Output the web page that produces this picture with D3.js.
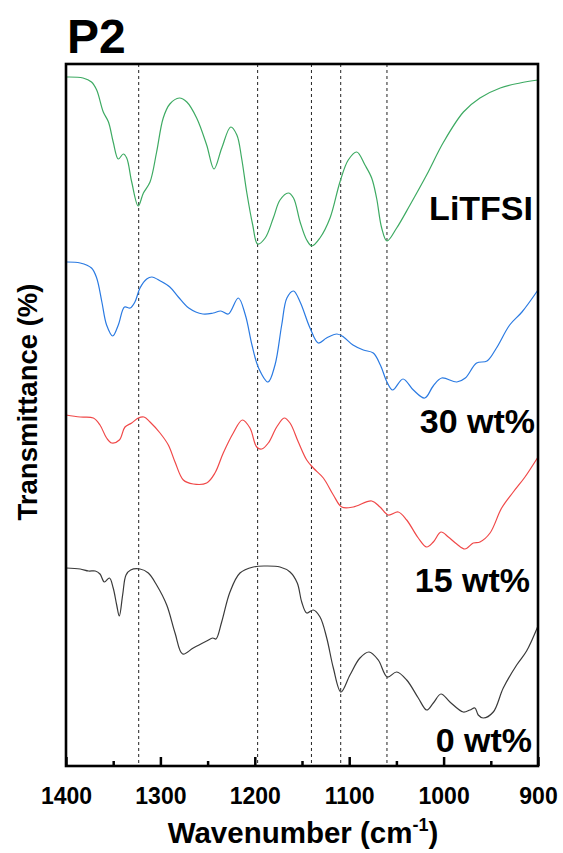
<html lang="en">
<head>
    <meta charset="UTF-8">
    <title>P2 FTIR</title>
    <style>
        body { margin: 0; background: #fff; }
        text { font-family: "Liberation Sans", Arial, sans-serif; font-weight: bold; fill: #000; }
    </style>
</head>
<body>

<script src="https://d3js.org/d3.v7.min.js"></script>

<div id="my_dataviz"></div>

<script>

    // spectra: [wavenumber (cm-1), transmittance (a.u., offset)]
    var litfsi = [[1400,68.9],[1382,68.8],[1373,68.4],[1367.5,67.6],[1360.5,65.4],[1355,64.4],[1350,62.4],[1344.6,60.7],[1339.3,61.2],[1335.7,60.8],[1330.4,58.4],[1323.5,56.0],[1318,57.3],[1311,58.4],[1304,61.4],[1297,64.8],[1290,66.2],[1280,66.8],[1272,66.4],[1261.6,64.8],[1251,62.1],[1243.2,59.7],[1235,61.8],[1225.5,63.9],[1219,63.1],[1214,60.8],[1208.6,57.4],[1202.2,54.1],[1197,52.2],[1189,52.8],[1180.4,54.8],[1173.3,56.6],[1164.5,57.3],[1159,56.8],[1152,54.4],[1145,52.6],[1139.5,52.0],[1131,52.8],[1120.3,54.8],[1109.8,58.4],[1101,60.6],[1092,61.4],[1083.3,60.1],[1076.2,58.8],[1071,56.8],[1065.6,53.8],[1060,52.5],[1049.7,53.8],[1035.6,56.1],[1018,59.1],[1000,62.4],[979,65.4],[961.5,66.8],[940,67.8],[919,68.3],[900,68.6]];

    var wt30 = [[1400,50.4],[1385,50.3],[1373,49.8],[1367.5,48.8],[1362,46.4],[1357,44.1],[1350.5,43.0],[1344.6,44.1],[1338,45.9],[1332,45.8],[1327,46.4],[1321.6,47.8],[1314.5,48.7],[1309,48.9],[1300,48.5],[1290,47.9],[1281,46.9],[1270,45.8],[1255,45.2],[1244,45.3],[1236,45.5],[1228,45.2],[1217.5,46.8],[1210,45.1],[1203,42.1],[1196,39.8],[1186,38.4],[1178.6,40.1],[1171.5,44.1],[1166,46.8],[1159,47.5],[1152,46.4],[1141.5,43.8],[1132.7,42.3],[1124,42.8],[1113,43.2],[1106,42.9],[1096,42.1],[1085,41.6],[1074.5,41.3],[1067,40.1],[1060,38.4],[1054,37.6],[1043,38.7],[1032,37.6],[1020,36.8],[1011,38.0],[1002,38.8],[986,38.4],[977,38.8],[965,40.3],[954,40.5],[944,41.8],[930,44.1],[917,45.4],[900,47.6]];

    var wt15 = [[1400,35.1],[1385,34.9],[1371,34.8],[1364,34.1],[1357,32.8],[1351.6,32.3],[1343.5,32.6],[1337.5,33.9],[1330.4,34.3],[1323.4,34.8],[1317.4,34.9],[1311,34.4],[1300.4,33.3],[1291.6,32.1],[1284.5,30.4],[1275.7,28.6],[1265.2,28.2],[1251,28.3],[1242.2,29.3],[1233.4,31.3],[1222.8,33.3],[1213.2,34.6],[1205.1,33.8],[1198,31.9],[1192.7,31.7],[1185.7,32.3],[1176.8,33.9],[1168.8,34.8],[1162.7,34.3],[1153.9,32.4],[1145,30.6],[1138,29.8],[1127.4,28.8],[1116.8,27.1],[1107.9,25.9],[1095.7,25.9],[1076.2,26.5],[1067.4,25.9],[1058.6,25.1],[1048,25.4],[1039.1,24.6],[1026.8,22.8],[1017.9,21.9],[1010.9,22.4],[1002.8,23.4],[995,22.9],[986.1,22.2],[977.4,21.7],[968.6,22.3],[961.5,22.4],[950.8,23.3],[938.5,25.8],[926.2,27.4],[913.8,28.9],[900,30.9]];

    var wt0 = [[1400,19.8],[1385,19.7],[1376,19.5],[1369,19.5],[1364,19.2],[1359.4,18.4],[1354,18.8],[1350,17.8],[1346.3,16.1],[1343.5,15.0],[1340,17.1],[1336.4,19.1],[1331.5,19.6],[1321.6,19.7],[1312.8,19.3],[1304,18.1],[1293.3,16.1],[1284.5,13.3],[1276.4,11.2],[1265.2,11.8],[1251,12.5],[1244.6,12.8],[1241.1,12.7],[1235.1,14.4],[1226.3,17.4],[1215.7,19.3],[1201.6,19.9],[1189.2,20.0],[1173.3,19.9],[1162.7,19.4],[1155,18.3],[1150.3,16.4],[1145,15.3],[1138,15.6],[1130.9,14.9],[1123.8,12.8],[1116.8,9.8],[1108.7,7.4],[1099.2,9.1],[1088.6,10.8],[1079,11.4],[1069.2,10.6],[1059.6,8.9],[1049.7,9.4],[1039.1,8.6],[1026.8,6.8],[1017.9,5.6],[1010.9,6.3],[1002.8,7.2],[993.3,6.4],[979.2,5.4],[972.1,5.6],[966.8,5.8],[963.3,5.1],[958,4.8],[947.4,5.4],[936.8,7.8],[922.6,10.1],[912.1,11.5],[900,14.0]];

    var seriesNames = ["LiTFSI", "30 wt%", "15 wt%", "0 wt%"];
    var seriesColors = ["#3daa62", "#2a7ae2", "#f04848", "#3a3a3a"];
    var peakLines = [1323, 1197, 1140, 1109, 1060];
    var xTicks = [1400, 1300, 1200, 1100, 1000, 900];
    var xMinorTicks = [1350, 1250, 1150, 1050, 950];

    var margin = {top: 64, right: 25, bottom: 87, left: 66},
        width = 563 - margin.left - margin.right,
        height = 853 - margin.top - margin.bottom;

    var svg = d3.select("#my_dataviz")
      .append("svg")
        .attr("width", 563)
        .attr("height", 853)
      .append("g")
        .attr("transform", "translate(" + margin.left + "," + margin.top + ")");

    var x = d3.scaleLinear()
      .domain([1400, 900])
      .range([0, width]);

    var y = d3.scaleLinear()
      .domain([0, 70.2])
      .range([height, 0]);

    // dashed marker lines
    svg.selectAll("peakline")
      .data(peakLines)
      .enter()
      .append("line")
        .attr("x1", function(d) { return x(d); })
        .attr("x2", function(d) { return x(d); })
        .attr("y1", 0)
        .attr("y2", height)
        .attr("stroke", "#222")
        .attr("stroke-width", 1)
        .attr("stroke-dasharray", "3,3");

    // spectra
    var line = d3.line()
      .x(function(d) { return x(d[0]); })
      .y(function(d) { return y(d[1]); })
      .curve(d3.curveCatmullRom.alpha(0.5));

    [litfsi, wt30, wt15, wt0].forEach(function(s, i) {
      svg.append("path")
        .datum(s)
        .attr("fill", "none")
        .attr("stroke", seriesColors[i])
        .attr("stroke-width", 1.2)
        .attr("d", line);
    });

    // frame
    svg.append("rect")
      .attr("x", 0)
      .attr("y", 0)
      .attr("width", width)
      .attr("height", height)
      .attr("fill", "none")
      .attr("stroke", "#000")
      .attr("stroke-width", 2.6);

    // x axis, ticks pointing in
    var xAxis = svg.append("g")
      .attr("transform", "translate(0," + height + ")")
      .call(d3.axisBottom(x).tickValues(xTicks).tickFormat(d3.format("d"))
        .tickSizeInner(-9).tickSizeOuter(0).tickPadding(22));
    xAxis.select(".domain").remove();
    xAxis.selectAll("line").attr("stroke-width", 2.5);
    xAxis.selectAll("text")
      .style("font-size", "23px")
      .style("font-family", "'Liberation Sans', Arial, sans-serif")
      .style("font-weight", "bold");

    var xMinor = svg.append("g")
      .attr("transform", "translate(0," + height + ")")
      .call(d3.axisBottom(x).tickValues(xMinorTicks).tickSizeInner(-5).tickSizeOuter(0).tickFormat(""));
    xMinor.select(".domain").remove();
    xMinor.selectAll("line").attr("stroke-width", 2.5);

    // series labels
    var labelPos = [[width - 5, 156], [width - 3, 369], [width - 8, 528], [width - 6, 688]];
    svg.selectAll("label")
      .data(seriesNames)
      .enter()
      .append("text")
        .attr("x", function(d, i) { return labelPos[i][0]; })
        .attr("y", function(d, i) { return labelPos[i][1]; })
        .attr("text-anchor", "end")
        .style("font-size", "34px")
        .text(function(d) { return d; });

    // axis titles
    var xt = svg.append("text")
      .attr("x", width / 2 + 1)
      .attr("y", height + 77)
      .attr("text-anchor", "middle")
      .style("font-size", "29.5px");
    xt.append("tspan").text("Wavenumber (cm");
    xt.append("tspan").attr("dy", -12).style("font-size", "18px").text("-1");
    xt.append("tspan").attr("dy", 12).text(")");

    svg.append("text")
      .attr("transform", "translate(-29," + (height / 2 - 13) + ")rotate(-90)")
      .attr("text-anchor", "middle")
      .style("font-size", "27.5px")
      .text("Transmittance (%)");

    svg.append("text")
      .attr("x", 1)
      .attr("y", -11)
      .style("font-size", "48px")
      .text("P2");

</script>

</body>
</html>
